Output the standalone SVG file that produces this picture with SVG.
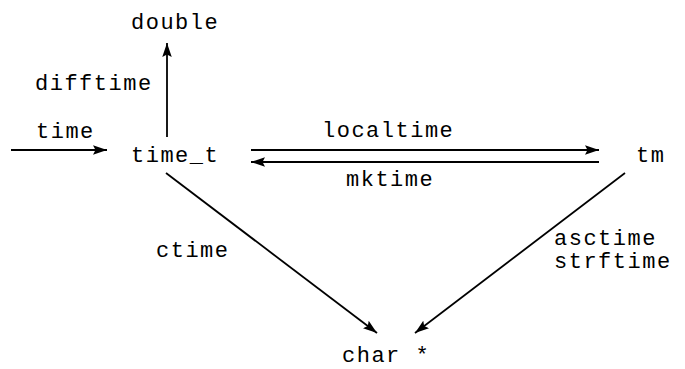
<svg xmlns="http://www.w3.org/2000/svg" width="685" height="369" viewBox="0 0 685 369">
<style>
text{font-family:"Liberation Mono","DejaVu Sans Mono",monospace;font-size:22px;letter-spacing:1.5px;fill:#000}
.c{stroke:#000;stroke-width:1.8;fill:none;marker-end:url(#ah)}
</style>
<defs>
<marker id="ah" markerUnits="userSpaceOnUse" markerWidth="15" markerHeight="10" refX="14" refY="4.75" orient="auto">
<path d="M0,0 L14,4.75 L0,9.5 L2.5,4.75 Z" fill="#000"/>
</marker>
</defs>
<rect width="685" height="369" fill="#fff"/>
<g id="connectors">
<line class="c" x1="11" y1="150" x2="107" y2="150"/>
<line class="c" x1="167" y1="137" x2="167" y2="43"/>
<line class="c" x1="251" y1="150" x2="599" y2="150"/>
<line class="c" x1="599" y1="162" x2="251" y2="162"/>
<line class="c" x1="166" y1="173" x2="377" y2="333"/>
<line class="c" x1="625" y1="173" x2="415" y2="333"/>
</g>
<g id="labels">
<text x="36" y="138">time</text>
<text x="35" y="90">difftime</text>
<text x="322" y="137">localtime</text>
<text x="346" y="186">mktime</text>
<text x="156" y="257">ctime</text>
<text x="554" y="245">asctime</text>
<text x="554" y="268">strftime</text>
</g>
<g id="node-double"><text x="131" y="29">double</text></g>
<g id="node-time_t"><text x="131" y="162">time_t</text></g>
<g id="node-tm"><text x="636" y="162">tm</text></g>
<g id="node-char"><text x="342" y="362">char *</text></g>
</svg>
